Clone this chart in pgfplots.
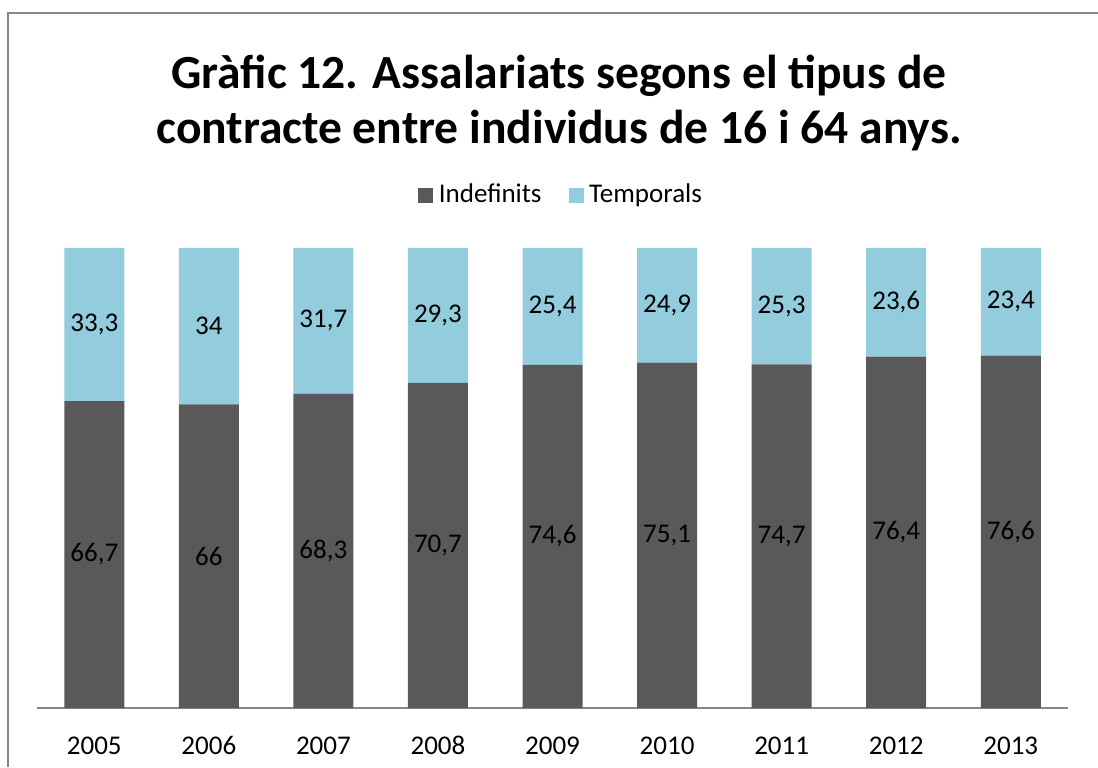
\documentclass[border=0pt]{standalone}
\usepackage{pgfplots}
\pgfplotsset{compat=1.18}
\usepackage{fontspec}
\setmainfont{Carlito}
\definecolor{indef}{HTML}{595959}
\definecolor{temp}{HTML}{93CDDD}
\definecolor{framegray}{HTML}{868686}

\begin{document}
\begin{tikzpicture}
% 1 px of the reference = 0.37pt
\useasboundingbox (0,0) rectangle (1098*0.37pt,767*0.37pt);
% chart frame (only left and top edges are in the picture)
\draw[framegray, line width=0.8pt] (8*0.37pt,0) -- (8*0.37pt,754*0.37pt) -- (1098*0.37pt,754*0.37pt);
\node[font=\bfseries\fontsize{17.6}{20.4}\selectfont, align=center] at (559*0.37pt,664*0.37pt)
  {Gràfic 12. Assalariats segons el tipus de\\contracte entre individus de 16 i 64 anys.};
\begin{axis}[
  at={(37*0.37pt,59*0.37pt)}, anchor=south west,
  scale only axis,
  width=381.5pt, height=170.2pt,
  ybar stacked,
  bar width=22.2pt,
  xmin=-0.5, xmax=8.5, ymin=0, ymax=100,
  enlargelimits=false,
  clip=false,
  axis x line*=bottom,
  hide y axis,
  x axis line style={framegray, line width=0.8pt},
  xtick={0,...,8},
  xticklabels={2005,2006,2007,2008,2009,2010,2011,2012,2013},
  xtick style={draw=none},
  xticklabel style={font=\fontsize{10}{12}\selectfont, yshift=-7pt},
  point meta=rawy,
  nodes near coords={\pgfmathprintnumber[use comma,fixed,precision=1,assume math mode=true]{\pgfplotspointmeta}},
  % stacked bars already put the labels mid-segment
  nodes near coords style={font=\fontsize{10}{12}\selectfont, text=black, anchor=center},
  legend columns=2,
  legend style={at={(0.51,1.115)}, anchor=center, draw=none, fill=none,
    font=\fontsize{10}{12}\selectfont,
    /tikz/every even column/.append style={column sep=8pt}},
  legend image code/.code={\fill[#1] (0pt,-2.8pt) rectangle (5.6pt,2.8pt);},
]
\addplot[fill=indef, draw=none] coordinates {
  (0,66.7) (1,66) (2,68.3) (3,70.7) (4,74.6) (5,75.1) (6,74.7) (7,76.4) (8,76.6)
};
\addplot[fill=temp, draw=none] coordinates {
  (0,33.3) (1,34) (2,31.7) (3,29.3) (4,25.4) (5,24.9) (6,25.3) (7,23.6) (8,23.4)
};
\legend{Indefinits, Temporals}
\end{axis}
\end{tikzpicture}
\end{document}
